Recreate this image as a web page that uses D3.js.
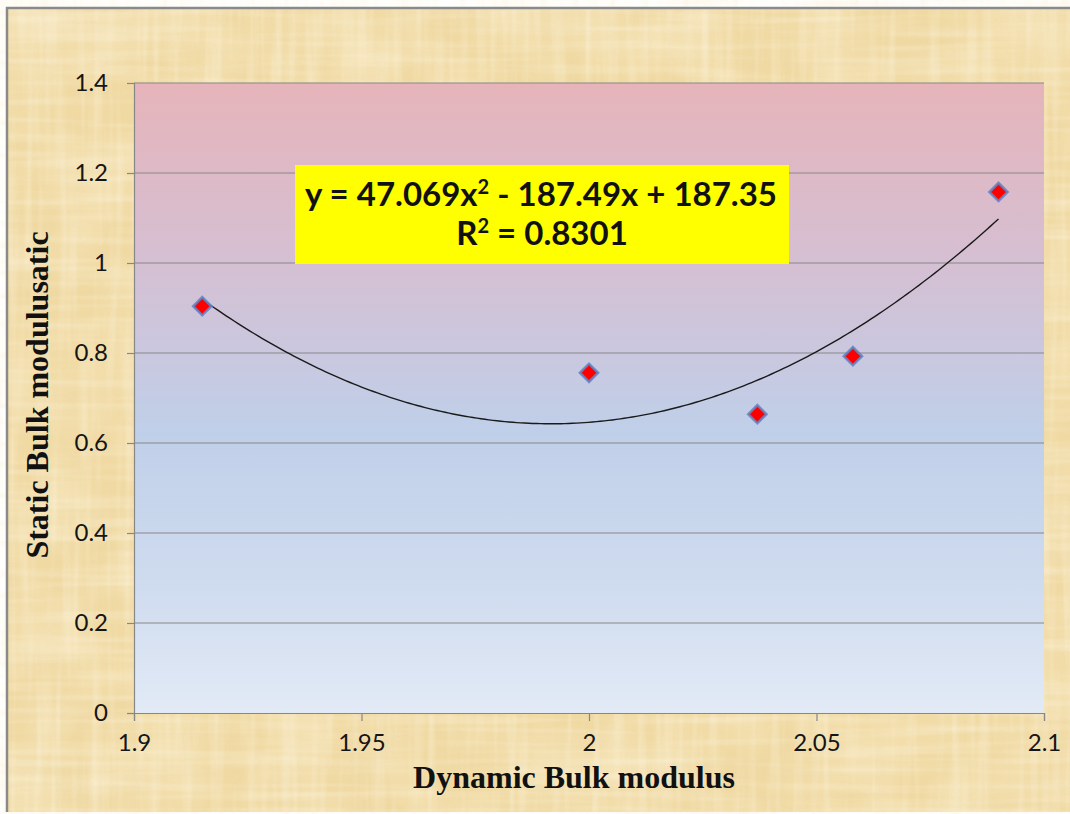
<!DOCTYPE html>
<html>
<head>
<meta charset="utf-8">
<script src="https://cdn.jsdelivr.net/npm/d3@7/dist/d3.min.js"></script>
<style>
  html, body { margin: 0; padding: 0; background: #ffffff; }
  svg { display: block; }
</style>
</head>
<body>
<svg id="chart" width="1070" height="814"></svg>
<script>
// Measured samples: dynamic vs static bulk modulus
const dynamicBulk = [1.915, 2.000, 2.037, 2.058, 2.090];
const staticBulk  = [0.904, 0.756, 0.664, 0.793, 1.158];

// Polynomial trend (order 2) coefficients: a*x^2 + b*x + c
const trendCoef = [47.069, -187.49, 187.35];
const trendR2 = "0.8301";

const xTicks = [1.9, 1.95, 2.0, 2.05, 2.1];
const xTickLabels = ["1.9", "1.95", "2", "2.05", "2.1"];
const yTicks = [0, 0.2, 0.4, 0.6, 0.8, 1.0, 1.2, 1.4];
const yTickLabels = ["0", "0.2", "0.4", "0.6", "0.8", "1", "1.2", "1.4"];

const xTitle = "Dynamic Bulk modulus";
const yTitle = "Static Bulk modulusatic";

const svg = d3.select("#chart");
const W = 1070, H = 814;
const plot = { left: 134, top: 83, right: 1044, bottom: 713 };

const defs = svg.append("defs");

// Papyrus-like texture: fine fibrous light and dark streaks over a warm base
function streakFilter(id, freq, seed, color, aScale, aOff) {
  const f = defs.append("filter").attr("id", id)
    .attr("filterUnits", "userSpaceOnUse")
    .attr("x", 0).attr("y", 0).attr("width", W).attr("height", H);
  f.append("feTurbulence").attr("type", "fractalNoise")
    .attr("baseFrequency", freq).attr("numOctaves", 2).attr("seed", seed);
  f.append("feColorMatrix").attr("type", "matrix")
    .attr("values", [
      0, 0, 0, 0, color[0],
      0, 0, 0, 0, color[1],
      0, 0, 0, 0, color[2],
      aScale, 0, 0, 0, aOff
    ].join(" "));
}
streakFilter("fibH", "0.006 0.12", 7, [1, 0.97, 0.86], 1.8, -0.8);
streakFilter("fibV", "0.12 0.006", 11, [1, 0.96, 0.84], 1.8, -0.8);
streakFilter("darkH", "0.006 0.1", 23, [0.80, 0.66, 0.38], 1.8, -0.9);
streakFilter("darkV", "0.1 0.006", 31, [0.82, 0.68, 0.40], 1.8, -0.9);
streakFilter("blotch", "0.015 0.015", 5, [0.99, 0.92, 0.74], 1.4, -0.5);

const bg = svg.append("g");
const frame = { x: 7, y: 8, w: W - 7, h: 812 - 8 };
bg.append("rect").attr("x", frame.x).attr("y", frame.y)
  .attr("width", frame.w).attr("height", frame.h).attr("fill", "#f0d9a2");
const layerOpacity = { blotch: 0.5, fibH: 0.4, fibV: 0.4, darkH: 0.22, darkV: 0.22 };
Object.keys(layerOpacity).forEach(id => {
  bg.append("rect").attr("x", frame.x).attr("y", frame.y)
    .attr("width", frame.w).attr("height", frame.h)
    .attr("filter", `url(#${id})`).attr("opacity", layerOpacity[id]);
});
// frame edge on left and top
bg.append("path")
  .attr("d", `M${frame.x},${frame.y + frame.h} V${frame.y} H${W}`)
  .attr("fill", "none").attr("stroke", "#8a8a8a").attr("stroke-width", 2.5);

// Plot-area gradient
const grad = defs.append("linearGradient").attr("id", "plotGrad")
  .attr("x1", 0).attr("y1", 0).attr("x2", 0).attr("y2", 1);
[[0, "#e6b4ba"], [0.3, "#d4c0d4"], [0.55, "#c0cfe9"], [0.8, "#cfdcef"], [1, "#e2eaf6"]]
  .forEach(([o, c]) => grad.append("stop").attr("offset", o).attr("stop-color", c));

const x = d3.scaleLinear().domain([1.9, 2.1]).range([plot.left, plot.right]);
const y = d3.scaleLinear().domain([0, 1.4]).range([plot.bottom, plot.top]);

svg.append("rect")
  .attr("x", plot.left).attr("y", plot.top)
  .attr("width", plot.right - plot.left).attr("height", plot.bottom - plot.top)
  .attr("fill", "url(#plotGrad)");

// Horizontal gridlines
svg.append("g").selectAll("line").data(yTicks.slice(1)).join("line")
  .attr("x1", plot.left).attr("x2", plot.right)
  .attr("y1", d => y(d)).attr("y2", d => y(d))
  .attr("stroke", "#878787").attr("stroke-width", 1.2);

const tickFont = "Lato, 'Open Sans', sans-serif";

// Y axis
const yAxis = svg.append("g").attr("transform", `translate(${plot.left},0)`)
  .call(d3.axisLeft(y).tickValues(yTicks).tickSize(7).tickPadding(19)
    .tickFormat((d, i) => yTickLabels[i]));
yAxis.select(".domain").attr("stroke", "#878787").attr("stroke-width", 1.2);
yAxis.selectAll(".tick line").attr("stroke", "#878787").attr("stroke-width", 1.2);
yAxis.selectAll(".tick text").attr("font-family", tickFont).attr("font-size", 24)
  .attr("fill", "#151515");

// X axis
const xAxis = svg.append("g").attr("transform", `translate(0,${plot.bottom})`)
  .call(d3.axisBottom(x).tickValues(xTicks).tickSize(8).tickPadding(13)
    .tickFormat((d, i) => xTickLabels[i]));
xAxis.select(".domain").attr("stroke", "#878787").attr("stroke-width", 1.2);
xAxis.selectAll(".tick line").attr("stroke", "#878787").attr("stroke-width", 1.2);
xAxis.selectAll(".tick text").attr("font-family", tickFont).attr("font-size", 24)
  .attr("fill", "#151515");

// Axis titles
const titleFont = "'Liberation Serif', 'Times New Roman', serif";
svg.append("text")
  .attr("x", 574).attr("y", 788)
  .attr("text-anchor", "middle")
  .attr("font-family", titleFont)
  .attr("font-weight", "bold").attr("font-size", 32).attr("fill", "#111")
  .text(xTitle);

svg.append("text")
  .attr("transform", `translate(48,${395}) rotate(-90)`)
  .attr("text-anchor", "middle")
  .attr("font-family", titleFont)
  .attr("font-weight", "bold").attr("font-size", 32).attr("fill", "#111")
  .text(yTitle);

// Trend curve evaluated from the fitted coefficients
const poly = v => trendCoef[0] * v * v + trendCoef[1] * v + trendCoef[2];
const xMin = d3.min(dynamicBulk), xMax = d3.max(dynamicBulk);
const curvePts = d3.range(0, 201).map(i => {
  const v = xMin + (xMax - xMin) * i / 200;
  return [v, poly(v)];
});
svg.append("path")
  .datum(curvePts)
  .attr("d", d3.line().x(d => x(d[0])).y(d => y(d[1])))
  .attr("fill", "none").attr("stroke", "#1a1a1a").attr("stroke-width", 1.4);

// Data markers: red diamonds with a blue outline
const pts = dynamicBulk.map((d, i) => [d, staticBulk[i]]);
const diamond = d3.symbol().type(d3.symbolSquare).size(165);
svg.append("g").selectAll("path").data(pts).join("path")
  .attr("transform", d => `translate(${x(d[0])},${y(d[1])}) rotate(45)`)
  .attr("d", diamond)
  .attr("fill", "#ff0000").attr("stroke", "#5f86c6").attr("stroke-width", 2.6)
  .attr("stroke-opacity", 0.85);

// Equation label
const eq = svg.append("g");
eq.append("rect").attr("x", 295).attr("y", 165).attr("width", 494).attr("height", 99)
  .attr("fill", "#ffff00");
const eqFont = "Lato, 'Open Sans', sans-serif";
const l1 = eq.append("text")
  .attr("text-anchor", "middle")
  .attr("font-family", eqFont)
  .attr("font-weight", "bold").attr("font-size", 33).attr("fill", "#111")
  .attr("x", 541).attr("y", 206);
l1.append("tspan").text(`y = ${trendCoef[0]}x`);
l1.append("tspan").attr("dy", -12).attr("font-size", 20).text("2");
l1.append("tspan").attr("dy", 12).text(` - ${Math.abs(trendCoef[1])}x + ${trendCoef[2]}`);
const l2 = eq.append("text")
  .attr("text-anchor", "middle")
  .attr("font-family", eqFont)
  .attr("font-weight", "bold").attr("font-size", 33).attr("fill", "#111")
  .attr("x", 542).attr("y", 245);
l2.append("tspan").text("R");
l2.append("tspan").attr("dy", -12).attr("font-size", 20).text("2");
l2.append("tspan").attr("dy", 12).text(` = ${trendR2}`);
</script>
</body>
</html>
